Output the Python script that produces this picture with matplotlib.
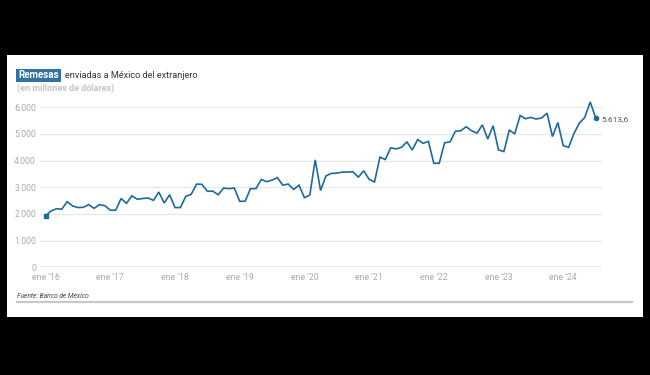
import matplotlib
matplotlib.use("Agg")
import matplotlib.pyplot as plt
import numpy as np
from matplotlib.patches import Rectangle

# Monthly remittances, Jan 2016 - Jul 2024 (millions of USD)
values = [
    1940, 2110, 2195, 2180, 2460, 2300, 2240, 2250, 2350, 2210, 2350, 2310,   # 2016
    2140, 2140, 2580, 2400, 2680, 2550, 2580, 2600, 2510, 2820, 2410, 2720,   # 2017
    2240, 2240, 2660, 2735, 3120, 3110, 2850, 2860, 2720, 2970, 2950, 2970,   # 2018
    2475, 2475, 2950, 2950, 3290, 3210, 3270, 3360, 3080, 3120, 2920, 3080,   # 2019
    2610, 2710, 4030, 2880, 3430, 3520, 3530, 3570, 3570, 3580, 3380, 3620,   # 2020
    3300, 3200, 4130, 4040, 4480, 4440, 4500, 4700, 4400, 4790, 4650, 4720,   # 2021
    3900, 3900, 4670, 4700, 5100, 5120, 5270, 5120, 5030, 5340, 4810, 5310,   # 2022
    4400, 4340, 5150, 5000, 5690, 5570, 5620, 5560, 5600, 5780, 4900, 5430,   # 2023
    4560, 4500, 5020, 5410, 5620, 6200, 5613.6,                               # 2024
]
year_labels = ["ene '16", "ene '17", "ene '18", "ene '19", "ene '20",
               "ene '21", "ene '22", "ene '23", "ene '24"]
y_ticks = [0, 1000, 2000, 3000, 4000, 5000, 6000]
y_tick_labels = ["0", "1.000", "2.000", "3.000", "4.000", "5.000", "6.000"]
last_label = "5.613,6"
title_box = "Remesas"
title_rest = "enviadas a México del extranjero"
subtitle = "(en millones de dólares)"
source = "Fuente: Banco de México"

FONT = ["Roboto", "DejaVu Sans"]
plt.rcParams["font.family"] = FONT

W, H = 650, 375
fig = plt.figure(figsize=(W / 100, H / 100), dpi=100)
fig.patch.set_facecolor("black")

def fx(px):
    return px / W

def fy(py):
    return 1 - py / H

# white card
card = Rectangle((fx(7), fy(317)), fx(643) - fx(7), fy(55) - fy(317),
                 transform=fig.transFigure, facecolor="white",
                 edgecolor="none", zorder=-10)
fig.patches.append(card)

LINE = "#1d6b98"
x = np.arange(len(values))

# axes: x -> month index, 5.392 px/month, month 0 at 45.6 px
ppm = 5.392
x0 = 45.6
ax_left, ax_right = 39.5, 602
ymax = 6300
ax_bottom_px = 267.3
ax_top_px = 267.3 - ymax / 1000 * 26.67
ax = fig.add_axes([fx(ax_left), fy(ax_bottom_px), fx(ax_right) - fx(ax_left),
                   fy(ax_top_px) - fy(ax_bottom_px)])
ax.set_zorder(5)
ax.set_facecolor("none")
ax.set_xlim((ax_left - x0) / ppm, (ax_right - x0) / ppm)
ax.set_ylim(0, ymax)

for t in y_ticks[1:]:
    ax.axhline(t, color="#e6e6e6", lw=0.8, zorder=1)
ax.axhline(0, color="#9a9a9a", lw=1.0, zorder=2)

ax.plot(x, values, color=LINE, lw=1.2, zorder=3, solid_joinstyle="miter")
ax.plot(x[0], values[0], marker="s", ms=2.8, color=LINE, zorder=4, clip_on=False)
ax.plot(x[-1], values[-1], marker="o", ms=3.0, color=LINE, zorder=4, clip_on=False)
ax.annotate(last_label, (x[-1], values[-1]), xytext=(4.5, -1), textcoords="offset points",
            ha="left", va="center", fontsize=6.0, color="#555555", annotation_clip=False)

for s in ax.spines.values():
    s.set_visible(False)
ax.set_yticks(y_ticks)
ax.set_yticklabels(y_tick_labels)
ax.set_xticks(np.arange(0, 12 * len(year_labels), 12))
ax.set_xticklabels(year_labels)
ax.tick_params(axis="both", length=0, labelsize=6.3, labelcolor="#ababab")
ax.tick_params(axis="y", pad=2.5)
ax.tick_params(axis="x", pad=4)

# titles
t1 = fig.text(fx(18), fy(75.5), title_box, fontsize=7.0, fontweight="bold",
              color="white", va="center", ha="left",
              bbox=dict(boxstyle="square,pad=0.2", facecolor="#2f72a3", edgecolor="none"))
fig.canvas.draw()
bb = t1.get_window_extent(fig.canvas.get_renderer())
fig.text(bb.x1 / W + fx(6.5), fy(75.5), title_rest, fontsize=6.6, color="#333333",
         va="center", ha="left")
fig.text(fx(17), fy(88), subtitle, fontsize=6.5, fontweight="bold", color="#c4c4c4",
         va="center", ha="left")

# source
fig.text(fx(17), fy(295.5), source, fontsize=4.8, fontstyle="italic", color="#444444",
         va="center", ha="left")
fig.lines.append(plt.Line2D([fx(17), fx(632)], [fy(302), fy(302)],
                            transform=fig.transFigure, color="#c8c8c8", lw=1.6))

fig.savefig("out.png", dpi=100, facecolor=fig.get_facecolor())
